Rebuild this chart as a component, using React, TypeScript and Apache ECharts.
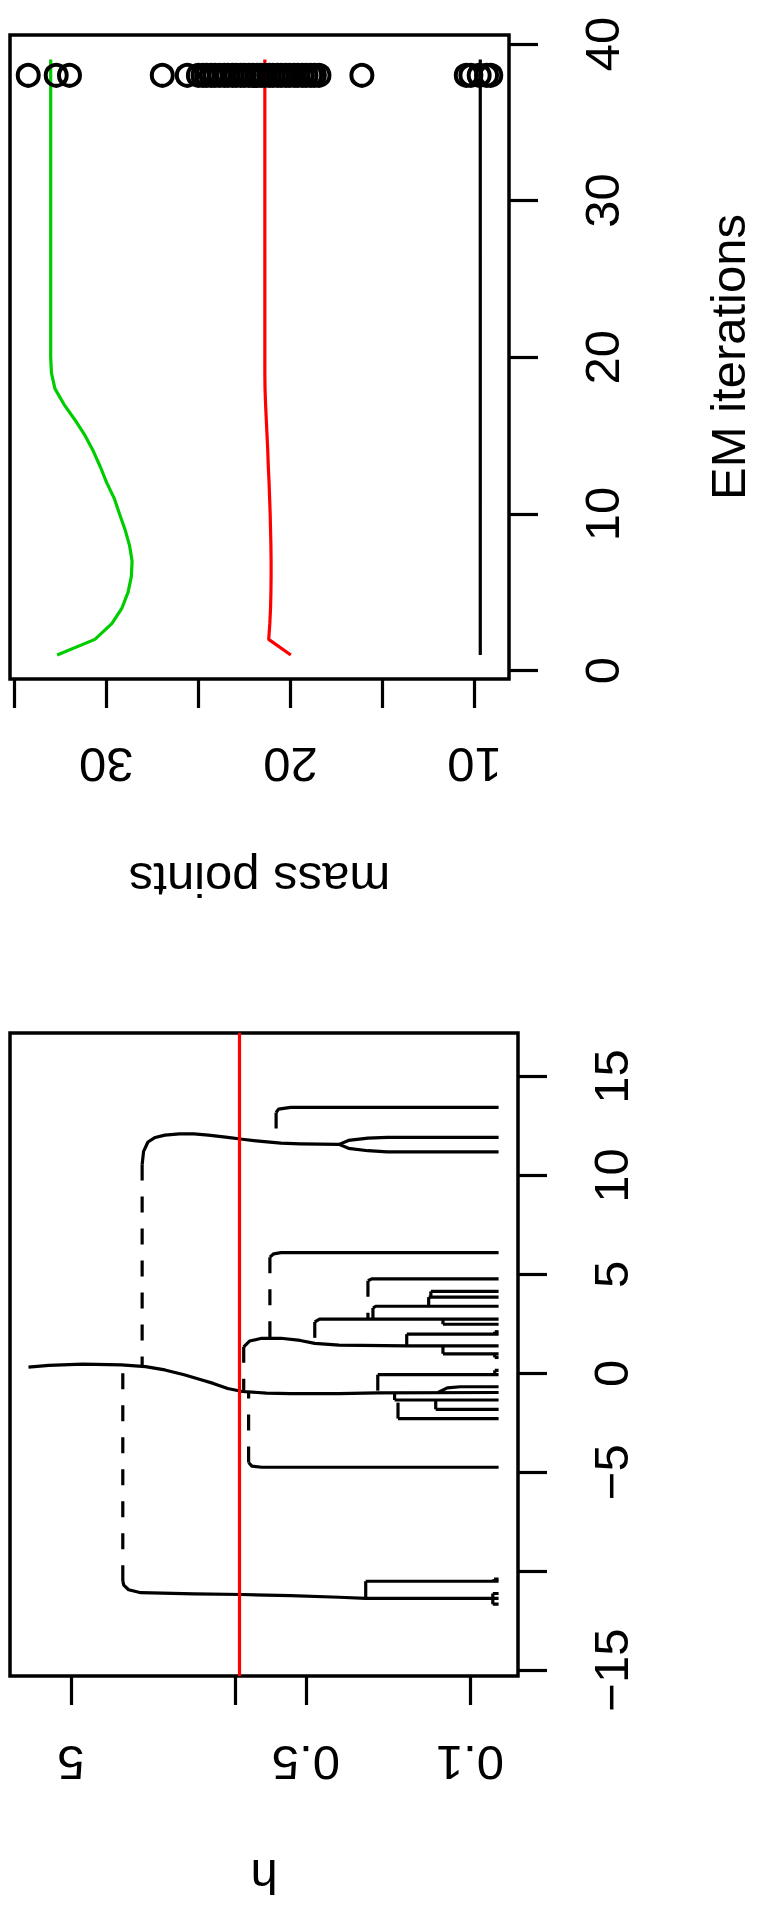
import React, { useEffect, useRef } from "react";
import * as echarts from "echarts";

// ---------- upper panel: EM iterations ----------
const emIterations = [1, 2, 3, 4, 5, 6, 7, 8, 9, 10, 11, 12, 13, 14, 15, 16, 17, 18, 19, 20, 21, 22, 23, 24, 25, 26, 27, 28, 29, 30, 31, 32, 33, 34, 35, 36, 37, 38, 39];
const greenPath = [32.67, 30.62, 29.7, 29.15, 28.82, 28.64, 28.6, 28.74, 28.98, 29.28, 29.57, 29.98, 30.32, 30.7, 31.15, 31.7, 32.3, 32.79, 32.98, 33.02, 33.02, 33.02, 33.02, 33.02, 33.02, 33.02, 33.02, 33.02, 33.02, 33.02, 33.02, 33.02, 33.02, 33.02, 33.02, 33.02, 33.02, 33.02, 33.02];
const redPath = [19.98, 21.18, 21.12, 21.08, 21.06, 21.05, 21.05, 21.06, 21.08, 21.1, 21.13, 21.16, 21.2, 21.23, 21.27, 21.31, 21.35, 21.38, 21.39, 21.39, 21.39, 21.39, 21.39, 21.39, 21.39, 21.39, 21.39, 21.39, 21.39, 21.39, 21.39, 21.39, 21.39, 21.39, 21.39, 21.39, 21.39, 21.39, 21.39];
const blackPath = [9.69, 9.69, 9.69, 9.69, 9.69, 9.69, 9.69, 9.69, 9.69, 9.69, 9.69, 9.69, 9.69, 9.69, 9.69, 9.69, 9.69, 9.69, 9.69, 9.69, 9.69, 9.69, 9.69, 9.69, 9.69, 9.69, 9.69, 9.69, 9.69, 9.69, 9.69, 9.69, 9.69, 9.69, 9.69, 9.69, 9.69, 9.69, 9.69];
const finalIteration = 38;
const finalMassPoints = [34.24, 32.72, 32.0, 26.96, 25.6, 25.0, 24.75, 24.55, 24.3, 24.1, 23.85, 23.6, 23.4, 23.15, 22.95, 22.7, 22.5, 22.25, 22.05, 21.8, 21.6, 21.4, 21.15, 20.95, 20.7, 20.5, 20.25, 20.05, 19.8, 19.6, 19.35, 19.15, 18.9, 18.7, 18.45, 16.12, 10.45, 10.2, 9.75, 9.35, 9.12];
const emTicks = [0, 10, 20, 30, 40];
const massTicks = [10, 15, 20, 25, 30, 35];
const massTickLabels = [10, 20, 30];

// ---------- lower panel: mode tree, [h, location] ----------
const locTicks = [-15, -10, -5, 0, 5, 10, 15];
const locTickLabels = [-15, -5, 0, 5, 10, 15];
const hTicks = [0.1, 0.5, 1, 5];
const hTickLabels = [0.1, 0.5, 5];
const selectedH = 0.962;

const branchMain = [[7.575, 0.31], [6.21, 0.4], [4.456, 0.46], [3.05, 0.43], [2.406, 0.34], [1.99, 0.17], [1.647, -0.07], [1.362, -0.36], [1.239, -0.51], [1.075, -0.77], [0.932, -0.92], [0.736, -1.0], [0.58, -1.03], [0.361, -1.03], [0.247, -0.99], [0.0756, -0.97]];
const branchLeft = [[3.006, -10.51], [2.978, -10.71], [2.84, -10.94], [2.52, -11.09], [1.497, -11.15], [0.932, -11.18], [0.58, -11.24], [0.361, -11.32], [0.278, -11.38], [0.0756, -11.38]];
const branchLeft2 = [[0.278, -10.51], [0.0756, -10.51]];
const branchRight = [[2.487, 10.55], [2.452, 11.22], [2.349, 11.69], [2.188, 11.92], [1.99, 12.04], [1.726, 12.1], [1.497, 12.1], [1.299, 12.04], [1.075, 11.92], [0.932, 11.83], [0.771, 11.72], [0.638, 11.63], [0.528, 11.6], [0.361, 11.57]];
const branchRightUp = [[0.361, 11.57], [0.329, 11.77], [0.272, 11.89], [0.225, 11.92], [0.0756, 11.92]];
const branchRightDown = [[0.361, 11.57], [0.329, 11.37], [0.272, 11.25], [0.225, 11.19], [0.0756, 11.19]];
const branchTop = [[0.669, 13.18], [0.653, 13.35], [0.58, 13.44], [0.0756, 13.44]];
const branchMid = [[0.919, 1.34], [0.868, 1.63], [0.771, 1.77], [0.638, 1.77], [0.528, 1.66], [0.458, 1.51], [0.361, 1.42], [0.186, 1.39], [0.0756, 1.39]];
const branchSix = [[0.711, 5.87], [0.685, 6.04], [0.638, 6.1], [0.0756, 6.1]];
const branchMinusFive = [[0.876, -4.51], [0.848, -4.69], [0.771, -4.75], [0.0756, -4.75]];
const branchK = [[0.458, 2.6], [0.437, 2.74], [0.0756, 2.74]];
const branchJ = [[0.259, 3.3], [0.252, 3.39], [0.0756, 3.39]];
const branchG = [[0.15, 3.85], [0.0756, 3.85]];
const branchH = [[0.272, 4.68], [0.262, 4.77], [0.0756, 4.77]];
const branchI = [[0.1468, 4.14], [0.0756, 4.14]];
const branchL = [[0.1304, 2.48], [0.0756, 2.48]];
const branchM = [[0.186, 1.98], [0.0756, 1.98]];
const branchN = [[0.1304, 0.985], [0.0756, 0.985]];
const branchO = [[0.247, -0.07], [0.0756, -0.07]];
const branchP = [[0.1368, -0.97], [0.125, -0.74], [0.11, -0.68], [0.0756, -0.68]];
const branchQ = [[0.2095, -1.35], [0.0756, -1.35]];
const branchR = [[0.2026, -2.29], [0.0756, -2.29]];
const branchS = [[0.14, -1.82], [0.0756, -1.82]];
const branchTinyA = [[0.08, -11.13], [0.0756, -11.13]];
const branchTinyB = [[0.08, -11.67], [0.0756, -11.67]];
const branchTinyC = [[0.079, -10.4], [0.0756, -10.4]];
const branchTinyD = [[0.0785, 2.1], [0.0756, 2.1]];
const branchTinyE = [[0.0785, 0.8], [0.0756, 0.8]];
const branchTinyF = [[0.0785, 0.15], [0.0756, 0.15]];

const linkLeft = [[3.006, -10.51], [3.006, 0.43]];
const linkLeft2 = [[0.278, -10.51], [0.278, -11.38]];
const linkRight = [[2.487, 10.55], [2.487, 0.36]];
const linkTop = [[0.669, 13.18], [0.669, 11.63]];
const linkMid = [[0.919, 1.34], [0.919, -0.88]];
const linkSix = [[0.711, 5.87], [0.711, 1.77]];
const linkMinusFive = [[0.876, -4.51], [0.876, -0.9]];
const linkK = [[0.458, 2.6], [0.458, 1.51]];
const linkJ = [[0.259, 3.3], [0.259, 2.74]];
const linkG = [[0.15, 3.85], [0.15, 3.39]];
const linkH = [[0.272, 4.68], [0.272, 2.74]];
const linkI = [[0.1468, 4.14], [0.1468, 3.85]];
const linkL = [[0.1304, 2.48], [0.1304, 2.74]];
const linkM = [[0.186, 1.98], [0.186, 1.39]];
const linkN = [[0.1304, 0.985], [0.1304, 1.39]];
const linkO = [[0.247, -0.07], [0.247, -0.99]];
const linkQ = [[0.2095, -1.35], [0.2095, -0.99]];
const linkR = [[0.2026, -2.29], [0.2026, -1.35]];
const linkS = [[0.14, -1.82], [0.14, -1.35]];
const linkTiny = [[0.08, -11.13], [0.08, -11.67]];
const linkTinyC = [[0.079, -10.4], [0.079, -10.51]];
const linkTinyD = [[0.0785, 2.1], [0.0785, 1.98]];
const linkTinyE = [[0.0785, 0.8], [0.0785, 0.985]];
const linkTinyF = [[0.0785, 0.15], [0.0785, -0.07]];

const solidBranches = [branchMain, branchLeft, branchLeft2, branchRight, branchRightUp, branchRightDown, branchTop, branchMid, branchSix, branchMinusFive, branchK, branchJ, branchG, branchH, branchI, branchL, branchM, branchN, branchO, branchP, branchQ, branchR, branchS, branchTinyA, branchTinyB, branchTinyC, branchTinyD, branchTinyE, branchTinyF];
const dashedLinks = [linkLeft, linkLeft2, linkRight, linkTop, linkMid, linkSix, linkMinusFive, linkK, linkJ, linkG, linkH, linkI, linkL, linkM, linkN, linkO, linkQ, linkR, linkS, linkTiny, linkTinyC, linkTinyD, linkTinyE, linkTinyF];

const FONT = "'Liberation Sans', Arial, Helvetica, sans-serif";
const FS = 49;
const minus = (v: number) => (v < 0 ? "\u2212" + Math.abs(v) : String(v));

export default function App() {
  const ref = useRef<HTMLDivElement>(null);
  useEffect(() => {
    if (!ref.current) return;
    const chart = echarts.init(ref.current, null, { renderer: "svg" });
    const labelStyle = { color: "#000", fontSize: FS, fontFamily: FONT };
    const tickStyle = { color: "#000", width: 3.2 };
    const noLine = { show: false, onZero: false };
    const curve = (d: number[][], dashed: boolean) => ({
      type: "line",
      xAxisIndex: 1,
      yAxisIndex: 1,
      data: d,
      symbol: "none",
      silent: true,
      lineStyle: { color: "#000", width: 3.2, type: dashed ? [16, 16] : "solid", cap: "butt", join: "round" },
      z: 3,
    });
    const track = (vals: number[], color: string) => ({
      type: "line",
      xAxisIndex: 0,
      yAxisIndex: 0,
      data: vals.map((m, i) => [m, emIterations[i]]),
      symbol: "none",
      silent: true,
      lineStyle: { color, width: 3.2 },
      z: 3,
    });
    chart.setOption({
      animation: false,
      backgroundColor: "#fff",
      textStyle: { fontFamily: FONT },
      grid: [
        { left: 10, top: 35, width: 508, height: 644, show: true, borderColor: "#000", borderWidth: 3.5, backgroundColor: "transparent" },
        { left: 10, top: 1033, width: 508, height: 643, show: true, borderColor: "#000", borderWidth: 3.5, backgroundColor: "transparent" },
      ],
      xAxis: [
        {
          gridIndex: 0, type: "value", min: 8.13, max: 35.23, inverse: true, position: "bottom",
          axisLine: noLine, splitLine: { show: false },
          axisTick: { show: true, customValues: massTicks, length: 29, lineStyle: tickStyle },
          axisLabel: { ...labelStyle, customValues: massTickLabels, rotate: 180, margin: 61, formatter: (v: number) => String(v) },
          name: "mass points", nameLocation: "middle", nameGap: 176, nameRotate: 180,
          nameTextStyle: labelStyle,
        },
        {
          gridIndex: 1, type: "log", logBase: 10, min: 0.0625, max: 9.08, inverse: true, position: "bottom",
          axisLine: noLine, splitLine: { show: false }, minorTick: { show: false },
          axisTick: { show: true, customValues: hTicks, length: 29, lineStyle: tickStyle },
          axisLabel: { ...labelStyle, customValues: hTickLabels, rotate: 180, margin: 62, formatter: (v: number) => String(+Number(v).toPrecision(3)) },
          name: "h", nameLocation: "middle", nameGap: 176, nameRotate: 180,
          nameTextStyle: labelStyle,
        },
      ],
      yAxis: [
        {
          gridIndex: 0, type: "value", min: -0.53, max: 40.57, position: "right",
          axisLine: noLine, splitLine: { show: false },
          axisTick: { show: true, customValues: emTicks, length: 29, lineStyle: tickStyle },
          axisLabel: { ...labelStyle, customValues: emTicks, rotate: 90, margin: 68, formatter: (v: number) => String(v) },
          name: "EM iterations", nameLocation: "middle", nameGap: 194, nameRotate: 90,
          nameTextStyle: labelStyle,
        },
        {
          gridIndex: 1, type: "value", min: -15.3, max: 17.2, position: "right",
          axisLine: noLine, splitLine: { show: false },
          axisTick: { show: true, customValues: locTicks, length: 29, lineStyle: tickStyle },
          axisLabel: { ...labelStyle, customValues: locTickLabels, rotate: 90, margin: 68, formatter: (v: number) => minus(v) },
        },
      ],
      series: [
        track(greenPath, "#00CD00"),
        track(redPath, "#FF0000"),
        track(blackPath, "#000000"),
        {
          type: "scatter",
          xAxisIndex: 0,
          yAxisIndex: 0,
          data: finalMassPoints.map((m) => [m, finalIteration]),
          symbol: "circle",
          symbolSize: 21,
          silent: true,
          itemStyle: { color: "transparent", borderColor: "#000", borderWidth: 4, opacity: 1 },
          z: 4,
        },
        ...solidBranches.map((d) => curve(d, false)),
        ...dashedLinks.map((d) => curve(d, true)),
        {
          type: "line",
          xAxisIndex: 1,
          yAxisIndex: 1,
          data: [],
          silent: true,
          z: 5,
          markLine: {
            silent: true,
            symbol: ["none", "none"],
            label: { show: false },
            lineStyle: { color: "#FF0000", width: 3.2, type: "solid" },
            data: [{ xAxis: selectedH }],
          },
        },
      ],
    });
    return () => chart.dispose();
  }, []);
  return <div ref={ref} style={{ position: "absolute", left: 0, top: 0, width: 760, height: 1906 }} />;
}
